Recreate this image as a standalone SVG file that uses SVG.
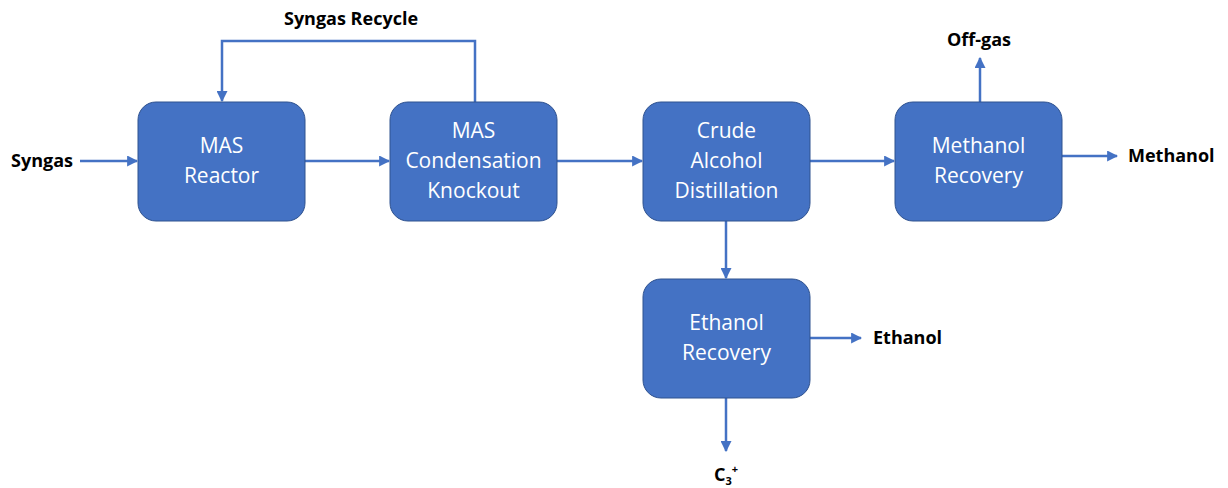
<svg xmlns="http://www.w3.org/2000/svg" width="1228" height="488" viewBox="0 0 1228 488">
<style>
.box{fill:#4472C4;stroke:#2F528F;stroke-width:1}
.bt{fill:#fff;font-family:"Open Sans","Noto Sans",sans-serif;font-size:21px;text-anchor:middle}
.lbl{fill:#000;font-family:"Open Sans","Noto Sans",sans-serif;font-weight:bold;font-size:18px}
.ln{fill:none;stroke:#4472C4;stroke-width:2.5;marker-end:url(#ah)}
</style>
<defs>
<marker id="ah" viewBox="0 0 10 10" refX="9" refY="5" markerWidth="4.4" markerHeight="4.4" markerUnits="strokeWidth" orient="auto">
<path d="M0,0 L10,5 L0,10 z" fill="#4472C4"/>
</marker>
</defs>
<rect width="1228" height="488" fill="#fff"/>
<g id="connectors">
<path class="ln" d="M80,161 H137"/>
<path class="ln" d="M305,161 H389"/>
<path class="ln" d="M557,161 H642"/>
<path class="ln" d="M810,161 H894"/>
<path class="ln" d="M1062,156 H1117"/>
<path class="ln" d="M980,102 V58"/>
<path class="ln" d="M475,102 V41 H222 V101"/>
<path class="ln" d="M726,221 V278"/>
<path class="ln" d="M810,338 H861"/>
<path class="ln" d="M726,398 V451"/>
</g>
<g id="reactor"><rect class="box" x="138" y="102" width="167" height="119" rx="18"/>
<text class="bt" x="221.5" y="153">MAS</text><text class="bt" x="221.5" y="183">Reactor</text></g>
<g id="knockout"><rect class="box" x="390" y="102" width="167" height="119" rx="18"/>
<text class="bt" x="473.5" y="138">MAS</text><text class="bt" x="473.5" y="168">Condensation</text><text class="bt" x="473.5" y="198">Knockout</text></g>
<g id="crude"><rect class="box" x="643" y="102" width="167" height="119" rx="18"/>
<text class="bt" x="726.5" y="138">Crude</text><text class="bt" x="726.5" y="168">Alcohol</text><text class="bt" x="726.5" y="198">Distillation</text></g>
<g id="methanol"><rect class="box" x="895" y="102" width="167" height="119" rx="18"/>
<text class="bt" x="978.5" y="153">Methanol</text><text class="bt" x="978.5" y="183">Recovery</text></g>
<g id="ethanol"><rect class="box" x="643" y="279" width="167" height="119" rx="18"/>
<text class="bt" x="726.5" y="330">Ethanol</text><text class="bt" x="726.5" y="360">Recovery</text></g>
<g id="labels">
<text class="lbl" x="11" y="167">Syngas</text>
<text class="lbl" x="351" y="25" text-anchor="middle">Syngas Recycle</text>
<text class="lbl" x="979" y="46" text-anchor="middle">Off-gas</text>
<text class="lbl" x="1128" y="162">Methanol</text>
<text class="lbl" x="873" y="344">Ethanol</text>
<text class="lbl" x="714" y="481">C<tspan font-size="11" dy="4">3</tspan><tspan font-size="11" dy="-12">+</tspan></text>
</g>
</svg>
